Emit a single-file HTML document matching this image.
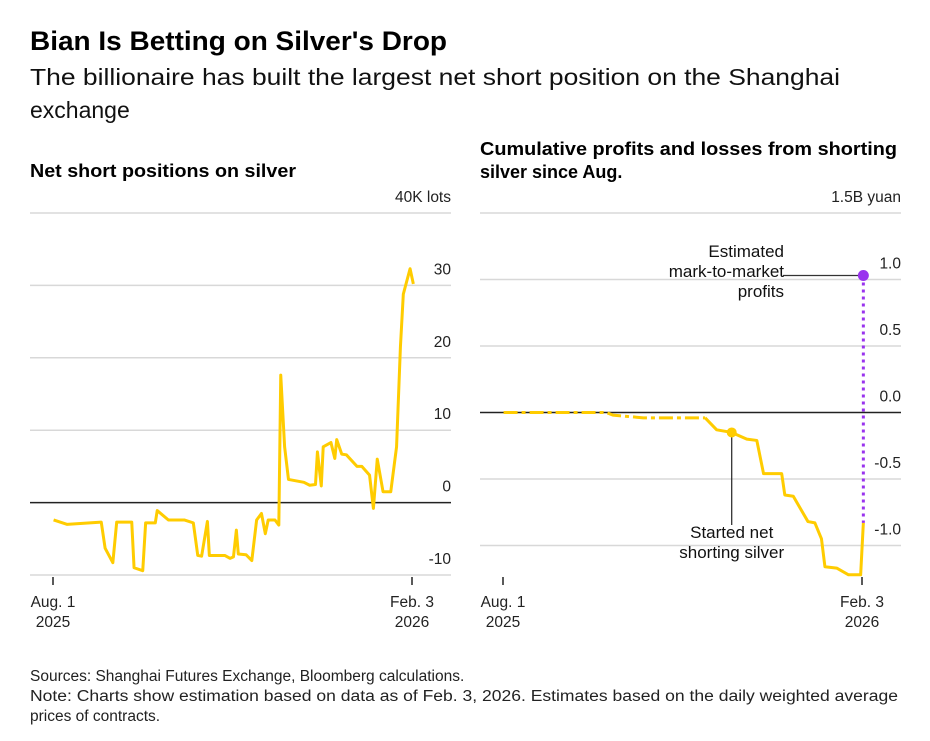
<!DOCTYPE html>
<html><head><meta charset="utf-8"><style>
html,body{margin:0;padding:0;background:#fff;}
svg{display:block;font-family:"Liberation Sans",Arial,sans-serif;}
</style></head><body>
<svg id="c" width="930" height="741" viewBox="0 0 930 741">
<text x="30" y="50" font-size="27" font-weight="bold" fill="#000" textLength="417" lengthAdjust="spacingAndGlyphs">Bian Is Betting on Silver's Drop</text>
<text x="30" y="85" font-size="23" fill="#111" textLength="810" lengthAdjust="spacingAndGlyphs">The billionaire has built the largest net short position on the Shanghai</text>
<text x="30" y="118" font-size="23" fill="#111">exchange</text>
<text x="30" y="177" font-size="18" font-weight="bold" fill="#000" textLength="266" lengthAdjust="spacingAndGlyphs">Net short positions on silver</text>
<text x="480" y="155" font-size="18" font-weight="bold" fill="#000" textLength="417" lengthAdjust="spacingAndGlyphs">Cumulative profits and losses from shorting</text>
<text x="480" y="178" font-size="18" font-weight="bold" fill="#000">silver since Aug.</text>
<g id="left"></g>
<g id="right"></g>
<text x="30" y="681" font-size="15.5" fill="#222">Sources: Shanghai Futures Exchange, Bloomberg calculations.</text>
<text x="30" y="701" font-size="15.5" fill="#222" textLength="868" lengthAdjust="spacingAndGlyphs">Note: Charts show estimation based on data as of Feb. 3, 2026. Estimates based on the daily weighted average</text>
<text x="30" y="721" font-size="15.5" fill="#222">prices of contracts.</text>
</svg>
<script>
const leftDays=[0.3,7.2,25,27,31,33,40.8,42,46.5,48,53,54,59.8,68,72.7,75,77,80,81,89,91.7,93.5,95,96,100,103,105.5,108,110,111.5,115,117,118,120,122,130,133,136,137,139,140,144,146,147,149.6,152,157.5,160,164,166,168,171,175,178,180,181.5,185,186.7];
const leftValues=[-2.4,-3.0,-2.7,-6.3,-8.3,-2.7,-2.7,-9.0,-9.4,-2.8,-2.8,-1.1,-2.4,-2.4,-2.8,-7.3,-7.4,-2.6,-7.3,-7.3,-7.7,-7.5,-3.8,-7.1,-7.2,-8.0,-2.4,-1.5,-4.3,-2.4,-2.4,-3.1,17.6,7.7,3.2,2.8,2.4,2.5,7.0,2.3,7.7,8.3,6.1,8.7,6.7,6.6,5.0,5.0,3.8,-0.8,6.0,1.5,1.5,7.7,21.5,28.8,32.3,30.2];
const leftTicks=[-10,0,10,20,30,40];
const rightDays=[0.3,53.6,57,72.7,90,104.7,110.7,118.5,126.3,131.5,135,144.4,146,150.4,158,161.6,165,166.8,172.9,179,185.3,186.7];
const rightValues=[0,0,-0.02,-0.04,-0.04,-0.04,-0.13,-0.15,-0.2,-0.21,-0.46,-0.46,-0.62,-0.63,-0.82,-0.83,-0.95,-1.16,-1.17,-1.22,-1.22,-0.83];
const rightTicks=[-1.0,-0.5,0.0,0.5,1.0,1.5];
const rightTickLabels=["-1.0","-0.5","0.0","0.5","1.0","1.5B yuan"];
const leftTickLabels=["-10","0","10","20","30","40K lots"];
const startDay=118.5, startValue=-0.15;
const mtmDay=186.7, mtmValue=1.03;
const NS="http://www.w3.org/2000/svg";
function mk(p,tag,attrs){const e=document.createElementNS(NS,tag);for(const k in attrs)e.setAttribute(k,attrs[k]);p.appendChild(e);return e;}
function build(g,x0,x1,tickX0,tickX1,vMin,vMax,yTop,yBottom,ticks,labels){
  const xs=d=>tickX0+(d/186)*(tickX1-tickX0);
  const ys=v=>yTop+(vMax-v)/(vMax-vMin)*(yBottom-yTop);
  ticks.forEach((t,i)=>{
    const y=ys(t);
    const ln=mk(g,'line',{x1:x0,x2:x1,y1:y,y2:y,stroke:t===0?'#222':'#d8d8d8','stroke-width':1.5});
    
    
    const tx=mk(g,'text',{x:x1,y:y-11,'text-anchor':'end','font-size':15.5,fill:'#222'});
    tx.textContent=labels[i];
    
    
  });
  [[tickX0,'Aug. 1','2025'],[tickX1,'Feb. 3','2026']].forEach(([x,a,b])=>{
    const tk=mk(g,'line',{x1:x,x2:x,y1:577,y2:585,stroke:'#222','stroke-width':1.5});
    
    
    const t1=mk(g,'text',{x:x,y:607,'text-anchor':'middle','font-size':15.5,fill:'#222'});t1.textContent=a;
    
    
    const t2=mk(g,'text',{x:x,y:627,'text-anchor':'middle','font-size':15.5,fill:'#222'});t2.textContent=b;
    
    
  });
  return {xs,ys};
}
const L=document.getElementById('left');
const la=build(L,30,451,53,412,-10,40,213,575,leftTicks,leftTickLabels);
const lp=mk(L,'polyline',{points:leftDays.map((d,i)=>la.xs(d)+','+la.ys(leftValues[i])).join(' '),fill:'none',stroke:'#ffcc00','stroke-width':3,'stroke-linejoin':'round'});


const R=document.getElementById('right');
const ra=build(R,480,901,503,862,-1.5,1.5,213,612,rightTicks,rightTickLabels);
const cut=6;
const rd=mk(R,'polyline',{points:rightDays.slice(0,cut).map((d,i)=>ra.xs(d)+','+ra.ys(rightValues[i])).join(' '),fill:'none',stroke:'#ffcc00','stroke-width':3,'stroke-dasharray':'14 4 4 4'});


const rp=mk(R,'polyline',{points:rightDays.slice(cut-1).map((d,i)=>ra.xs(d)+','+ra.ys(rightValues[i+cut-1])).join(' '),fill:'none',stroke:'#ffcc00','stroke-width':3,'stroke-linejoin':'round'});


const sx=ra.xs(startDay),sy=ra.ys(startValue);
const sl=mk(R,'line',{x1:sx,x2:sx,y1:sy,y2:525,stroke:'#222','stroke-width':1.2});


const sd=mk(R,'circle',{cx:sx,cy:sy,r:5,fill:'#ffcc00'});


[['Started net',538],['shorting silver',558]].forEach(([t,y])=>{const e=mk(R,'text',{x:sx,y:y,'text-anchor':'middle','font-size':17,fill:'#111'});e.textContent=t;

});
const mx=ra.xs(mtmDay),my=ra.ys(mtmValue);
const ml=mk(R,'line',{x1:mx,x2:mx,y1:my,y2:ra.ys(rightValues[rightValues.length-1]),stroke:'#9933ee','stroke-width':3,'stroke-dasharray':'3 4'});


const hl=mk(R,'line',{x1:783,x2:mx,y1:my,y2:my,stroke:'#333','stroke-width':1.2});


const md=mk(R,'circle',{cx:mx,cy:my,r:5.5,fill:'#9933ee'});


[['Estimated',257],['mark-to-market',277],['profits',297]].forEach(([t,y])=>{const e=mk(R,'text',{x:784,y:y,'text-anchor':'end','font-size':17,fill:'#111'});e.textContent=t;

});
</script>
</body></html>
